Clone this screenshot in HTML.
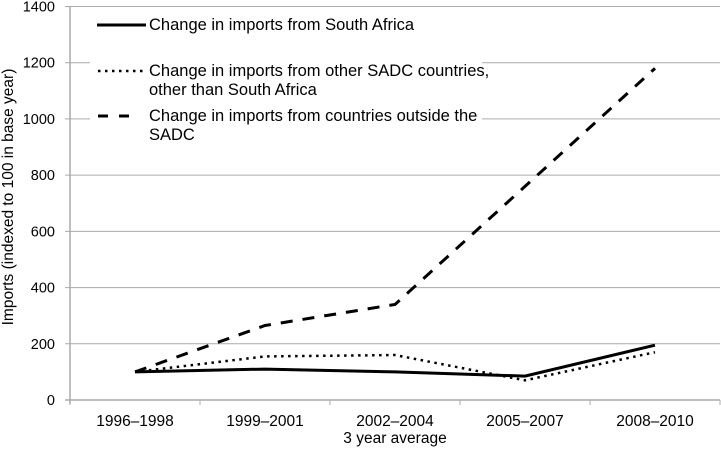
<!DOCTYPE html>
<html><head><meta charset="utf-8">
<style>
body{margin:0;background:#fff;}
svg{display:block;font-family:"Liberation Sans",Arial,sans-serif;}
</style></head>
<body>
<svg id="chart" width="721" height="449" viewBox="0 0 721 449" xmlns="http://www.w3.org/2000/svg">
<g id="grid"></g>
<g id="yticks"></g>
<g id="xaxis"></g>
<text transform="translate(13,197) rotate(-90)" text-anchor="middle" font-size="15.5">Imports (indexed to 100 in base year)</text>
<text x="395" y="443" text-anchor="middle" font-size="15.5">3 year average</text>
<g id="series"></g>
<g>
<rect x="90" y="10" width="392" height="146" fill="#fff"/>
<line x1="97" y1="25" x2="146" y2="25" stroke="#000" stroke-width="3"/>
<text x="149" y="30" font-size="16.5">Change in imports from South Africa</text>
<line x1="98" y1="71" x2="146" y2="71" stroke="#000" stroke-width="2.5" stroke-dasharray="2.5,4.5"/>
<text x="149" y="76" font-size="16.5">Change in imports from other SADC countries,</text>
<text x="149" y="95" font-size="16.5">other than South Africa</text>
<line x1="98" y1="116" x2="132" y2="116" stroke="#000" stroke-width="3" stroke-dasharray="10,11"/>
<text x="149" y="121" font-size="16.5">Change in imports from countries outside the</text>
<text x="149" y="140" font-size="16.5">SADC</text>
</g>
</svg>
<script>
const categories = ["1996–1998","1999–2001","2002–2004","2005–2007","2008–2010"];
const southAfrica = [100, 110, 100, 85, 195];
const otherSadc = [100, 155, 160, 70, 170];
const outsideSadc = [100, 265, 340, 760, 1180];
const yTicks = [0, 200, 400, 600, 800, 1000, 1200, 1400];

const NS = "http://www.w3.org/2000/svg";
const x0 = 70, x1 = 720, y0 = 400, yTop = 6.5, yMax = 1400;
const band = (x1 - x0) / categories.length;
function xs(i){ return x0 + band * (i + 0.5); }
function ys(v){ return y0 - (v / yMax) * (y0 - yTop); }
function mk(tag, attrs, parent){
  const e = document.createElementNS(NS, tag);
  for (const k in attrs) e.setAttribute(k, attrs[k]);
  parent.appendChild(e); return e;
}
const grid = document.getElementById('grid');
const yt = document.getElementById('yticks');
yTicks.forEach(v => {
  if (v > 0) {
    const g = mk('line', {x1: x0 - 5, x2: x1, y1: ys(v), y2: ys(v), stroke: '#aaa', 'stroke-width': 1}, grid);
    
    
  }
  const t = mk('text', {x: 55, y: ys(v) + 5, 'text-anchor': 'end', 'font-size': 14.5}, yt);
  
  
  t.textContent = v;
});
const xa = document.getElementById('xaxis');
const ya = mk('line', {x1: x0, x2: x0, y1: yTop, y2: y0 + 4, stroke: '#aaa', 'stroke-width': 1.5}, xa);


const xl = mk('line', {x1: x0 - 5, x2: x1, y1: y0, y2: y0, stroke: '#aaa', 'stroke-width': 1.5}, xa);


for (let i = 0; i <= categories.length; i++) {
  const tk = mk('line', {x1: x0 + band * i, x2: x0 + band * i, y1: y0, y2: y0 + 5, stroke: '#aaa', 'stroke-width': 1}, xa);
  
  
}
categories.forEach((c, i) => {
  const t = mk('text', {x: xs(i), y: 426, 'text-anchor': 'middle', 'font-size': 15.5}, xa);
  
  
  t.textContent = c;
});
const ser = document.getElementById('series');
function pts(arr){ return arr.map((v, i) => xs(i) + ',' + ys(v)).join(' '); }
const l3 = mk('polyline', {points: pts(outsideSadc), fill: 'none', stroke: '#000', 'stroke-width': 3, 'stroke-dasharray': '12,10'}, ser);


const l2 = mk('polyline', {points: pts(otherSadc), fill: 'none', stroke: '#000', 'stroke-width': 2.5, 'stroke-dasharray': '2.5,4.5'}, ser);


const l1 = mk('polyline', {points: pts(southAfrica), fill: 'none', stroke: '#000', 'stroke-width': 3}, ser);


</script>
</body></html>
